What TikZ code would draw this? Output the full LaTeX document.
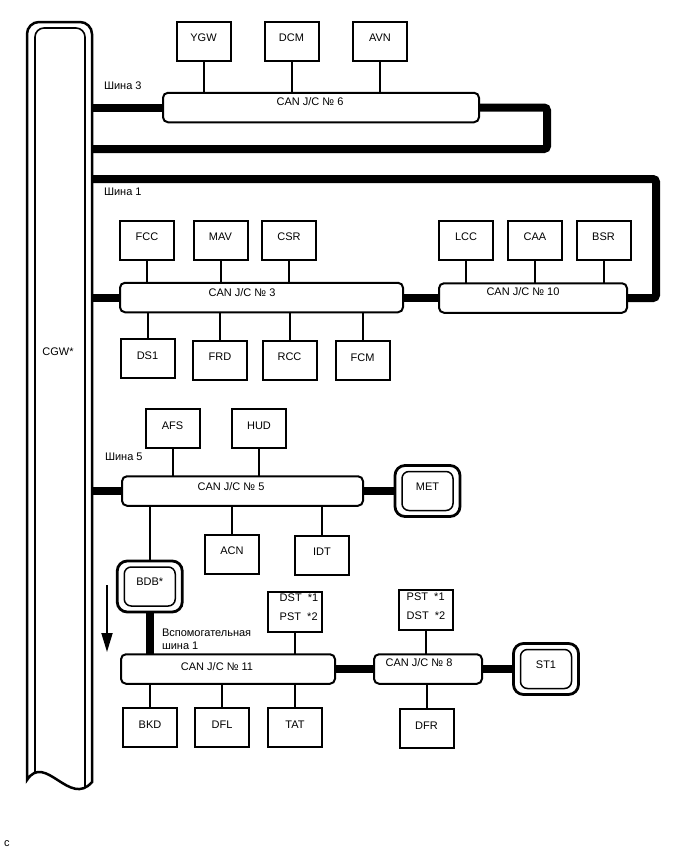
\documentclass[tikz,border=0pt]{standalone}
\usepackage{fontspec}
\setmainfont{Liberation Sans}
\usetikzlibrary{arrows.meta}
\begin{document}
\begin{tikzpicture}[x=1pt,y=-1pt,
  every node/.style={font=\fontsize{11}{12}\selectfont, inner sep=0pt, outer sep=0pt},
  ecubox/.style={draw, line width=2pt, minimum width=54pt, minimum height=39pt, text height=7.8pt, text depth=6.3pt},
  canbox/.style={draw, line width=2pt, rounded corners=5pt, minimum height=29.5pt},
  cantext/.style={text height=7.8pt, text depth=0pt},
  dblout/.style={draw, line width=2.8pt, rounded corners=10pt, minimum width=65pt, minimum height=51pt, text height=7.8pt, text depth=9.3pt},
  dblin/.style={draw, line width=1.5pt, rounded corners=7pt},
  bus/.style={line width=8pt, rounded corners=3pt},
  link/.style={line width=2pt},
  twoline/.style={align=left, font=\fontsize{11}{19}\selectfont}]
\useasboundingbox (0,0) rectangle (688,852);

% CGW column
\draw[line width=2.5pt] (27,780) -- (27,34) arc[start angle=180,end angle=270,radius=12] -- (80,22) arc[start angle=270,end angle=360,radius=12] -- (92,782) .. controls (70,808) and (45,752) .. (27,780) -- cycle;
\begin{scope}
\clip (27,780) -- (27,34) arc[start angle=180,end angle=270,radius=12] -- (80,22) arc[start angle=270,end angle=360,radius=12] -- (92,782) .. controls (70,808) and (45,752) .. (27,780) -- cycle;
\draw[line width=1.6pt, rounded corners=9pt] (35,810) -- (35,28) -- (85,28) -- (85,810);
\end{scope}
\node (cgwt) at (58,352) {CGW*};

% bus coordinates on CGW edge
\coordinate (g3) at (92,108);
\coordinate (g3b) at (92,149);
\coordinate (b3r) at (547,149);
\coordinate (g1) at (92,179);
\coordinate (b1r) at (656,179);
\coordinate (g1b) at (92,297.5);
\coordinate (g5) at (92,491);

% CAN J/C boxes
\node[canbox, minimum width=316pt] (c6) at (321,107.5) {};
\node[canbox, minimum width=283pt] (c3) at (261.5,297.5) {};
\node[canbox, minimum width=188pt] (c10) at (533,298) {};
\node[canbox, minimum width=241pt] (c5) at (242.5,491) {};
\node[canbox, minimum width=214pt] (c11) at (228,669) {};
\node[canbox, minimum width=108pt] (c8) at (428,669) {};
\node[cantext] (c6t) at ([shift={(-11,-5.5)}]c6.center) {CAN J/C № 6};
\node[cantext] (c3t) at ([shift={(-19.5,-4.5)}]c3.center) {CAN J/C № 3};
\node[cantext] (c10t) at ([shift={(-10,-6)}]c10.center) {CAN J/C № 10};
\node[cantext] (c5t) at ([shift={(-11.5,-4)}]c5.center) {CAN J/C № 5};
\node[cantext] (c11t) at ([shift={(-11,-2)}]c11.center) {CAN J/C № 11};
\node[cantext] (c8t) at ([shift={(-9,-6)}]c8.center) {CAN J/C № 8};

% ECU boxes
\node[ecubox] (ygw) at (203.5,41) {YGW};
\node[ecubox] (dcm) at (291.5,41) {DCM};
\node[ecubox] (avn) at (380,41) {AVN};
\node[ecubox] (fcc) at (147,240) {FCC};
\node[ecubox] (mav) at (220.5,240) {MAV};
\node[ecubox] (csr) at (289,240) {CSR};
\node[ecubox] (lcc) at (466,240) {LCC};
\node[ecubox] (caa) at (535,240) {CAA};
\node[ecubox] (bsr) at (603.5,240) {BSR};
\node[ecubox] (ds1) at (147.5,358.5) {DS1};
\node[ecubox] (frd) at (220,360) {FRD};
\node[ecubox] (rcc) at (289.5,360) {RCC};
\node[ecubox] (fcm) at (362.5,360.5) {FCM};
\node[ecubox] (afs) at (172.5,428.5) {AFS};
\node[ecubox] (hud) at (259,428.5) {HUD};
\node[ecubox] (acn) at (232,554) {ACN};
\node[ecubox] (idt) at (322,555) {IDT};
\node[ecubox, minimum height=40pt] (dst) at (295,612) {};
\node[ecubox, minimum height=40pt] (pst) at (425.5,610) {};
\node[twoline] (dstt) at ([shift={(4,-4.5)}]dst.center) {DST\ \ *1\\PST\ \ *2};
\node[twoline] (pstt) at ([shift={(0.5,-3.5)}]pst.center) {PST\ \ *1\\DST\ \ *2};
\node[ecubox] (bkd) at (150,727.5) {BKD};
\node[ecubox] (dfl) at (222,727.5) {DFL};
\node[ecubox] (tat) at (295,727.5) {TAT};
\node[ecubox] (dfr) at (426.5,728.5) {DFR};

% double-outlined ECUs
\node[dblout] (met) at (427.5,491) {MET};
\draw[dblin] ([shift={(7,6)}]met.north west) rectangle ([shift={(-7,-6)}]met.south east);
\node[dblout] (bdb) at (149.75,586.5) {BDB*};
\draw[dblin] ([shift={(7,6)}]bdb.north west) rectangle ([shift={(-7,-6)}]bdb.south east);
\node[dblout] (st1) at (546,669) {ST1};
\draw[dblin] ([shift={(7,6)}]st1.north west) rectangle ([shift={(-7,-6)}]st1.south east);

% buses
\draw[bus] (g3) -- (g3 -| c6.west);
\draw[bus] (c6.east) -| (b3r) -- (g3b);
\draw[bus] (g1) -- (b1r) |- (c10.east);
\draw[bus] (g1b) -- (g1b -| c3.west);
\draw[bus] (c3.east) -- (c3.east -| c10.west);
\draw[bus] (g5) -- (g5 -| c5.west);
\draw[bus] (c5.east) -- (met.west);
\draw[bus] (bdb.south) -- (bdb.south |- c11.north);
\draw[bus] (c11.east) -- (c8.west);
\draw[bus] (c8.east) -- (st1.west);

% links
\foreach \n in {ygw,dcm,avn} \draw[link] (\n.south) -- (\n.south |- c6.north);
\foreach \n in {fcc,mav,csr} \draw[link] (\n.south) -- (\n.south |- c3.north);
\foreach \n in {ds1,frd,rcc,fcm} \draw[link] (\n.north |- c3.south) -- (\n.north);
\foreach \n in {lcc,caa,bsr} \draw[link] (\n.south) -- (\n.south |- c10.north);
\foreach \n in {afs,hud} \draw[link] (\n.south) -- (\n.south |- c5.north);
\foreach \n in {bdb,acn,idt} \draw[link] (\n.north |- c5.south) -- (\n.north);
\draw[link] (dst.south) -- (dst.south |- c11.north);
\foreach \n in {bkd,dfl,tat} \draw[link] (\n.north |- c11.south) -- (\n.north);
\draw[link] (pst.south) -- (pst.south |- c8.north);
\draw[link] (dfr.north |- c8.south) -- (dfr.north);

% labels
\node[anchor=west] (sh3) at (104,86) {Шина 3};
\node[anchor=west] (sh1) at (104,192) {Шина 1};
\node[anchor=west] (sh5) at (105,457) {Шина 5};
\node[anchor=north west, align=left, font=\fontsize{11}{13}\selectfont] (aux) at (162,628.5) {Вспомогательная\\шина 1};

% arrow
\coordinate (a1) at (107,585);
\coordinate (a2) at (107,652);
\draw[line width=1.8pt, -{Triangle[length=19pt,width=11pt]}] (a1) -- (a2);

\node (cmark) at (7,844) {c};
\end{tikzpicture}
\end{document}
